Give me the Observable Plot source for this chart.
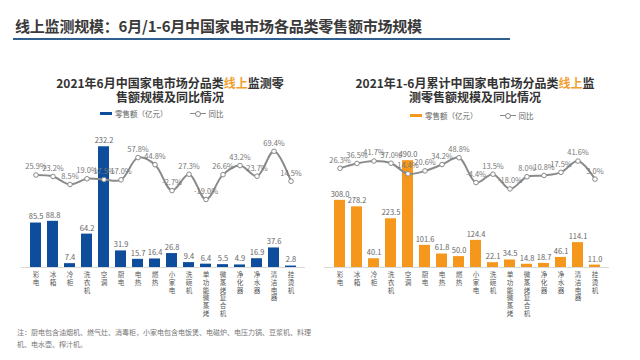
<!DOCTYPE html>
<html><head><meta charset="utf-8">
<script src="https://cdn.jsdelivr.net/npm/d3@7"></script>
<script src="https://cdn.jsdelivr.net/npm/@observablehq/plot@0.6"></script>
<style>
body{margin:0;background:#fff;font-family:"Noto Sans CJK SC",sans-serif;}
#wrap{position:relative;width:640px;height:360px;overflow:hidden;background:#fff;}
.abs{position:absolute;}
#title{left:15px;top:15px;font-size:15px;font-weight:bold;color:#3a3a3a;letter-spacing:-0.2px;white-space:nowrap;}
#uline{left:13px;top:38px;width:497px;height:2px;background:#2f5f8f;}
.ct{font-size:12px;font-weight:bold;color:#333;text-align:center;line-height:13.5px;white-space:nowrap;}
.hl{color:#f0a030;}
.leg{font-size:7.5px;color:#666;white-space:nowrap;display:flex;align-items:center;}
.sw{display:inline-block;width:12px;height:3px;margin-right:3px;}
.ln{display:inline-block;width:16px;height:1.5px;background:#888;position:relative;margin-right:3px;}
.ln:after{content:"";position:absolute;left:5px;top:-2px;width:4px;height:4px;border:1px solid #888;border-radius:50%;background:#fff;}
#note{left:17px;top:326px;width:306px;font-size:7px;color:#777;line-height:12px;}
svg{position:absolute;top:0;}
</style></head>
<body><div id="wrap">
<div id="title" class="abs">线上监测规模：6月/1-6月中国家电市场各品类零售额市场规模</div>
<div id="uline" class="abs"></div>
<div class="abs ct" style="left:20px;top:76px;width:300px;">2021年6月中国家电市场分品类<span class="hl">线上</span>监测零<br>售额规模及同比情况</div>
<div class="abs ct" style="left:325px;top:76px;width:300px;">2021年1-6月累计中国家电市场分品类<span class="hl">线上</span>监<br>测零售额规模及同比情况</div>
<div class="abs leg" style="left:100px;top:108px;"><span class="sw" style="background:#0e4d9b"></span>零售额（亿元）<span style="width:22px;display:inline-block"></span><span class="ln"></span>同比</div>
<div class="abs leg" style="left:410px;top:110px;"><span class="sw" style="background:#f4971c"></span>零售额（亿元）<span style="width:22px;display:inline-block"></span><span class="ln"></span>同比</div>
<div id="note" class="abs">注：厨电包含油烟机、燃气灶、消毒柜，小家电包含电饭煲、电磁炉、电压力锅、豆浆机、料理机、电水壶、榨汁机。</div>
</div>
<script>
const categories = ["彩电","冰箱","冷柜","洗衣机","空调","厨电","电热","燃热","小家电","洗碗机","单功能微蒸烤","微蒸烤复合机","净化器","净水器","清洁电器","挂烫机"];
const juneSales = [85.5,88.8,7.4,64.2,232.2,31.9,15.7,16.4,26.8,9.4,6.4,5.5,4.9,16.9,37.6,2.8];
const juneYoY = [25.9,23.2,8.5,19.0,17.5,17.0,57.8,44.8,-2.7,27.3,-19.0,26.6,43.2,23.7,69.4,14.5];
const h1Sales = [308.0,278.2,40.1,223.5,490.0,101.6,61.8,50.0,124.4,22.1,34.5,14.8,18.7,46.1,114.1,11.0];
const h1YoY = [26.3,36.5,41.7,37.0,14.4,20.6,34.2,48.8,-4.4,13.5,-18.0,8.0,10.8,17.5,41.6,3.0];

const wrap = document.getElementById("wrap");
const font = "Noto Sans CJK SC";
const vert = d => d.split("").join("\n");

function chart(left, sales, yoy, color, xm, barDom, barTop, lineDom, lineTop, lineBottom) {
  const bars = categories.map((c,i)=>({c, v: sales[i]}));
  const pts = categories.map((c,i)=>({c, v: yoy[i]}));
  const xOpt = {type:"band", domain: categories, padding: 0.36};
  const p1 = Plot.plot({
    width: 320, height: 360,
    marginLeft: xm[0], marginRight: xm[1], marginTop: barTop, marginBottom: 93,
    style: {fontFamily: font, background: "transparent", overflow: "visible"},
    x: {...xOpt, label: null},
    y: {domain: barDom, axis: null},
    marks: [
      Plot.ruleY([0], {stroke: "#d9d9d9"}),
      Plot.barY(bars, {x: "c", y: "v", fill: color}),
      Plot.text(bars, {x: "c", y: "v", text: d => d.v.toFixed(1), dy: -6, fontSize: 7.5, fill: "#666"}),
      Plot.axisX({label: null, tickSize: 0, tickPadding: 4, fontSize: 6.6, fill: "#555", lineHeight: 1.18, tickFormat: vert})
    ]
  });
  p1.style.left = left + "px";
  wrap.appendChild(p1);
  const p2 = Plot.plot({
    width: 320, height: 360,
    marginLeft: xm[0], marginRight: xm[1], marginTop: lineTop, marginBottom: lineBottom,
    style: {fontFamily: font, background: "transparent", overflow: "visible"},
    x: {...xOpt, axis: null},
    y: {domain: lineDom, axis: null},
    marks: [
      Plot.line(pts, {x: "c", y: "v", stroke: "#8a8a8a", strokeWidth: 2, curve: "catmull-rom"}),
      Plot.dot(pts, {x: "c", y: "v", r: 2.3, fill: "#fff", stroke: "#8a8a8a", strokeWidth: 1}),
      Plot.text(pts, {x: "c", y: "v", text: d => d.v.toFixed(1) + "%", dy: -8, fontSize: 7.5, fill: "#777"})
    ]
  });
  p2.style.left = left + "px";
  wrap.appendChild(p2);
}
chart(0, juneSales, juneYoY, "#0e4d9b", [21, 15], [0, 250], 137, [-30, 80], 145, 155);
chart(320, h1Sales, h1YoY, "#f4971c", [4, 31], [0, 500], 158, [-30, 60], 152, 166);
</script>
</body></html>
